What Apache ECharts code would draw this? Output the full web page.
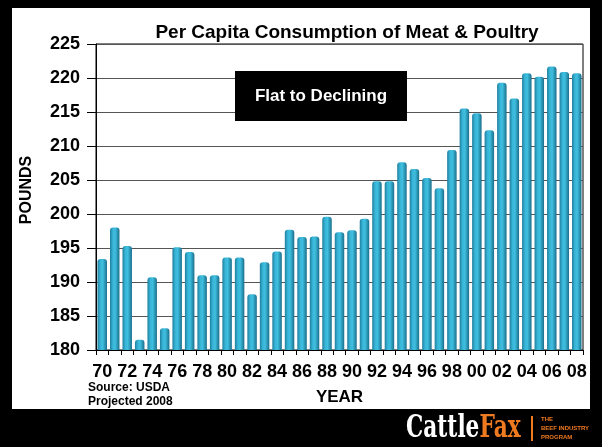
<!DOCTYPE html>
<html>
<head>
<meta charset="utf-8">
<script src="https://cdn.jsdelivr.net/npm/echarts@6/dist/echarts.min.js"></script>
<style>html,body{margin:0;padding:0;background:#000;}#c{width:602px;height:447px;}</style>
</head>
<body>
<div id="c"></div>
<script>
var years = ['70','71','72','73','74','75','76','77','78','79','80','81','82','83','84','85','86','87','88','89','90','91','92','93','94','95','96','97','98','99','00','01','02','03','04','05','06','07','08'];
var pounds = [193.4,198.0,195.3,181.5,190.7,183.2,195.1,194.4,191.0,191.0,193.6,193.6,188.2,192.9,194.5,197.7,196.6,196.7,199.6,197.3,197.6,199.3,204.8,204.8,207.6,206.6,205.3,203.8,209.4,215.5,214.8,212.3,219.3,217.0,220.7,220.2,221.7,220.9,220.7];
var yTicks = {min:180, max:225, step:5};

var chart = echarts.init(document.getElementById('c'), null, {renderer:'canvas'});
var F = 'Liberation Sans, Arial, sans-serif';
chart.setOption({
  backgroundColor:'#ffffff',
  animation:false,
  title:{text:'Per Capita Consumption of Meat & Poultry', left:342, top:18, textAlign:'center',
    textStyle:{fontFamily:F, fontWeight:'bold', fontSize:19, color:'#000'}},
  grid:{left:96, right:19, top:44, bottom:97, show:true, borderColor:'#000', borderWidth:1, backgroundColor:'transparent'},
  xAxis:{type:'category', data:years, boundaryGap:true,
    axisLine:{lineStyle:{color:'#000', width:1}},
    axisTick:{show:true, alignWithLabel:false, interval:0, length:5, lineStyle:{color:'#000'}},
    axisLabel:{interval:1, fontFamily:F, fontWeight:'bold', fontSize:18, color:'#000', margin:13},
    name:'YEAR', nameLocation:'middle', nameGap:39,
    nameTextStyle:{fontFamily:F, fontWeight:'bold', fontSize:17, color:'#000'}
  },
  yAxis:{type:'value', min:yTicks.min, max:yTicks.max, interval:yTicks.step,
    axisLine:{show:true, lineStyle:{color:'#000'}},
    axisTick:{show:true, length:9, lineStyle:{color:'#000'}},
    splitLine:{show:true, lineStyle:{color:'#555', width:1}},
    axisLabel:{fontFamily:F, fontWeight:'bold', fontSize:18, color:'#000', margin:16}
  },
  series:[{type:'bar', data:pounds, barCategoryGap:'24%',
    itemStyle:{borderRadius:[3,3,0,0],
      color:new echarts.graphic.LinearGradient(0,0,1,0,[
        {offset:0,color:'#1f7f9e'},{offset:0.3,color:'#38b4d6'},{offset:0.55,color:'#3fbfe0'},{offset:1,color:'#1a6f8c'}])}
  }],
  graphic:[
    {type:'rect', shape:{x:0,y:0,width:602,height:8}, style:{fill:'#000'}},
    {type:'rect', shape:{x:0,y:0,width:12,height:447}, style:{fill:'#000'}},
    {type:'rect', shape:{x:590,y:0,width:12,height:447}, style:{fill:'#000'}},
    {type:'rect', shape:{x:0,y:409,width:602,height:38}, style:{fill:'#000'}},
    {type:'text', x:27, y:190, rotation:Math.PI/2, style:{text:'POUNDS', fill:'#000', font:'bold 16px '+F, textAlign:'center', textVerticalAlign:'middle'}},
    {type:'rect', shape:{x:235,y:71,width:172,height:50}, style:{fill:'#000'}, z:10},
    {type:'text', x:321, y:96, z:11, style:{text:'Flat to Declining', fill:'#fff', font:'bold 17px '+F, textAlign:'center', textVerticalAlign:'middle'}},
    {type:'text', x:88, y:382, style:{text:'Source: USDA', fill:'#000', font:'bold 12px '+F}},
    {type:'text', x:88, y:396, style:{text:'Projected 2008', fill:'#000', font:'bold 12px '+F}},
    {type:'text', x:406, y:413, scaleX:0.7, style:{text:'{a|Cattle}{b|Fax}', fill:'#fff',
      rich:{a:{fill:'#fff', font:'bold 31px DejaVu Serif, serif'}, b:{fill:'#f07a20', font:'bold 31px DejaVu Serif, serif'}}}},
    {type:'rect', shape:{x:531,y:416,width:2,height:25}, style:{fill:'#f07a20'}},
    {type:'text', x:541, y:416, style:{text:'THE', fill:'#f07a20', font:'bold 6px '+F}},
    {type:'text', x:541, y:425, style:{text:'BEEF INDUSTRY', fill:'#f07a20', font:'bold 6px '+F}},
    {type:'text', x:541, y:434, style:{text:'PROGRAM', fill:'#f07a20', font:'bold 6px '+F}}
  ]
});
</script>
</body>
</html>
